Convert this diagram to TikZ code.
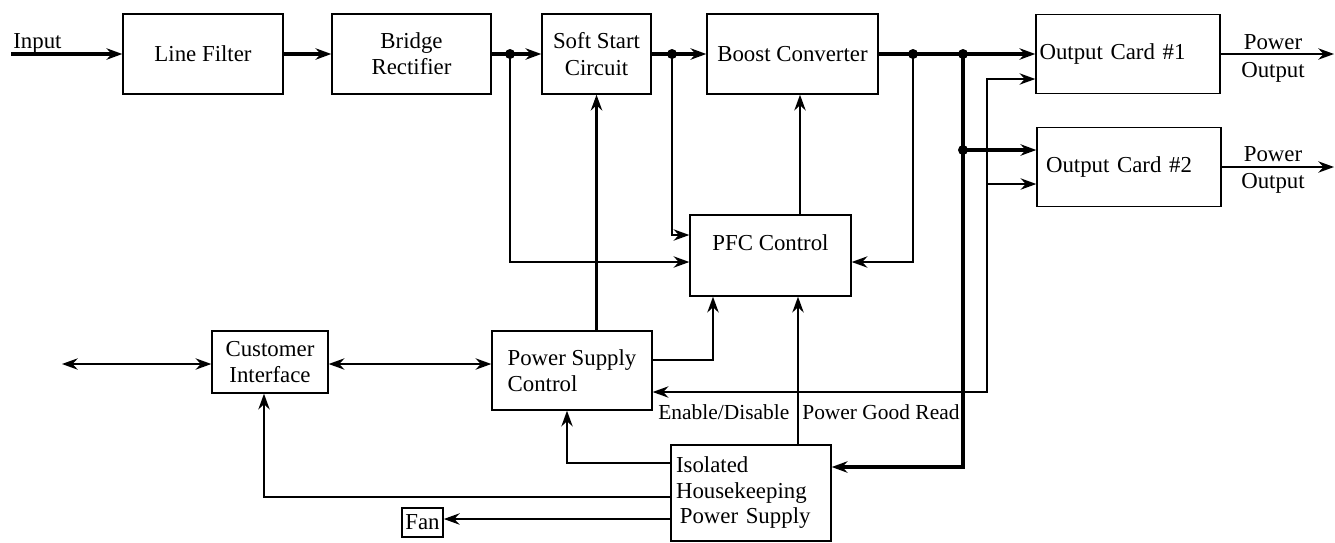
\documentclass[tikz,border=0pt]{standalone}
\usepackage{fontspec}
\setmainfont{Liberation Serif}
\usetikzlibrary{arrows.meta}

\begin{document}
\begin{tikzpicture}[x=0.02cm, y=-0.02cm,
    >={Stealth[length=9pt,width=6.5pt,inset=3pt]},
    font=\fontsize{13pt}{15pt}\selectfont,
    blk/.style={draw, line width=0.8pt, rectangle, inner sep=2pt, align=center},
    pwr/.style={line width=1.9pt},
    mid/.style={line width=1.2pt},
    sig/.style={line width=0.75pt},
    lbl/.style={inner sep=0pt, font=\fontsize{12.2pt}{15pt}\selectfont}]
    \useasboundingbox (0,0) rectangle (1335,542);

    % Power path
    \node[blk, minimum width=3.2cm, minimum height=1.6cm] (filter) at (203,54) {Line Filter};
    \node[blk, minimum width=3.18cm, minimum height=1.6cm] (bridge) at (411.5,54) {Bridge\\Rectifier};
    \node[blk, minimum width=2.18cm, minimum height=1.6cm] (soft) at (596.5,54) {Soft Start\\Circuit};
    \node[blk, minimum width=3.42cm, minimum height=1.6cm] (boost) at (792.5,54) {Boost Converter};
    \node[blk, text width=3.54cm, align=left, minimum height=1.58cm] (card1) at (1128,54) {Output Card \#1};
    \node[blk, text width=3.32cm, inner xsep=0.18cm, align=left, minimum height=1.58cm] (card2) at (1129,167) {Output Card \#2};

    % Control blocks
    \node[blk, inner ysep=0pt, minimum width=3.22cm, text height=0.7cm, text depth=0.92cm] (pfc) at (770.5,255.5) {PFC Control};
    \node[blk, minimum width=2.32cm, minimum height=1.24cm] (ci) at (270,362) {Customer\\Interface};
    \node[blk, align=left, minimum width=3.2cm, minimum height=1.58cm] (psc) at (572,370.5) {Power Supply\\Control};
    \node[blk, align=left, text width=3.0cm, inner xsep=0.1cm, minimum height=1.92cm, font=\fontsize{13pt}{14.5pt}\selectfont] (iso) at (751,493) {Isolated\\Housekeeping\\\,Power Supply};
    \node[blk, minimum width=0.74cm, minimum height=0.58cm] (fan) at (422.5,522.5) {Fan};

    % Labels
    \node[anchor=base west, inner sep=0pt] (inlbl) at (13,48) {Input};
    \node[inner sep=0pt, align=center, font=\fontsize{13pt}{15.5pt}\selectfont] (out1) at (1273,58.5) {Power\\Output};
    \node[inner sep=0pt, align=center, font=\fontsize{13pt}{15.5pt}\selectfont] (out2) at (1273,170) {Power\\Output};
    \node[lbl, anchor=base west] (enlbl) at (658,419) {Enable/Disable};
    \node[lbl, anchor=base west] (pglbl) at (802,419) {Power Good Read};

    % Junctions and bends
    \coordinate (inp) at (11,54);
    \coordinate (j1) at (510,54);
    \coordinate (j2) at (672,54);
    \coordinate (j3) at (913,54);
    \coordinate (j4) at (963,54);
    \coordinate (j5) at (963,150);
    \coordinate (b1) at (510,262);
    \coordinate (b2) at (672,235);
    \coordinate (b3) at (913,262);
    \coordinate (b4) at (963,467);
    \coordinate (b5) at (800,0);
    \coordinate (b6) at (713,360);
    \coordinate (b7) at (798,0);
    \coordinate (b8) at (567,463);
    \coordinate (b9) at (264,497);
    \coordinate (pgt) at (987,79);
    \coordinate (pgm) at (987,184);
    \coordinate (pgb) at (987,392);
    \coordinate (ext) at (62,364);
    \coordinate (o1) at (1334,54);
    \coordinate (o2) at (1334,167);

    % Arrows
    \draw[pwr,->] (inp) -- (filter);
    \draw[pwr,->] (filter) -- (bridge);
    \draw[pwr,->] (bridge) -- (soft);
    \draw[pwr,->] (soft) -- (boost);
    \draw[pwr,->] (boost) -- (card1);
    \draw[pwr,->] (j4) |- (iso.east |- b4);
    \draw[pwr,->] (j5) -- (card2.west |- j5);
    \draw[sig,->] (card1.east) -- (o1);
    \draw[sig,->] (card2.east) -- (o2);

    \draw[sig,->] (j1) |- (pfc.west |- b1);
    \draw[sig,->] (j2) |- (pfc.west |- b2);
    \draw[sig,->] (j3) |- (pfc.east |- b3);
    \draw[mid,->] (pfc.north -| b5) -- (boost.south -| b5);
    \draw[pwr,->] (psc.north -| soft.south) -- (soft.south);
    \draw[mid,->] (psc.east |- b6) -| (pfc.south -| b6);
    \draw[mid,->] (iso.north -| b7) -- (pfc.south -| b7);

    \draw[sig,<->] (psc.east |- pgb) -- (pgb) -- (pgt) -- (card1.west |- pgt);
    \draw[sig,->] (pgm) -- (card2.west |- pgm);

    \draw[sig,->] (iso.west |- b8) -| (psc.south -| b8);
    \draw[sig,->] (iso.west |- b9) -| (ci.south -| b9);
    \draw[sig,->] (iso.west |- 0,519) -- (fan.east |- 0,519);
    \draw[sig,<->] (ext) -- (ci.west |- ext);
    \draw[sig,<->] (ci.east |- ext) -- (psc.west |- ext);

    \foreach \j in {j1,j2,j3,j4,j5}
        \fill (\j) circle (0.1cm);
\end{tikzpicture}
\end{document}
